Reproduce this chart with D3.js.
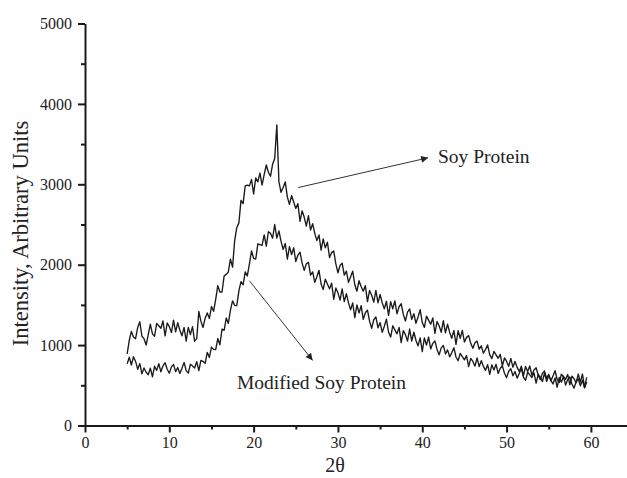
<!DOCTYPE html>
<html>
<head>
<meta charset="utf-8">
<script src="https://cdn.jsdelivr.net/npm/d3@7/dist/d3.min.js"></script>
<style>
  html, body { margin: 0; padding: 0; background: #fff; }
  svg { display: block; }
  text { font-family: "Liberation Serif", "Times New Roman", serif; fill: #222; }
</style>
</head>
<body>
<svg id="chart" width="627" height="478"></svg>
<script>
// ---- data ----
const twoThetaStart = 5;      // first sample, degrees 2θ
const twoThetaStep = 0.25;    // sampling step, degrees

const soyProtein = [
  890,1060,1170,1100,1080,1220,1290,1110,
  1080,1000,1130,1260,1140,1110,1270,1240,
  1210,1300,1115,1275,1230,1155,1310,1165,
  1280,1185,1115,1220,1050,1220,1130,1230,
  1050,1080,1420,1295,1220,1335,1400,1330,
  1480,1420,1570,1740,1660,1660,1860,1880,
  1910,2070,1970,2300,2460,2520,2800,2760,
  2980,2990,2980,3060,2880,3080,3030,3140,
  2990,3120,3240,3150,3100,3250,3320,3740,
  3030,2900,2960,3030,2840,2750,2860,2780,
  2700,2760,2540,2670,2590,2480,2610,2430,
  2510,2390,2300,2370,2180,2320,2210,2280,
  2090,2150,2170,2010,1900,1990,2020,1870,
  1920,1780,1850,1920,1750,1670,1800,1730,
  1670,1740,1540,1680,1620,1535,1680,1525,
  1630,1525,1450,1545,1370,1540,1450,1550,
  1390,1477,1515,1382,1300,1410,1450,1320,
  1390,1270,1350,1440,1280,1220,1360,1310,
  1260,1338,1145,1293,1240,1158,1305,1153,
  1260,1158,1085,1183,1010,1178,1085,1183,
  1038,1096,1118,1022,960,1029,1049,950,
  991,899,947,1002,882,832,922,879,
  836,884,743,840,797,736,835,725,
  796,723,671,738,616,735,671,741,
  628,691,718,627,570,648,677,586,
  636,555,615,681,572,535,637,607,
  576,635,506,614,582,531,640,540,
  640,470,600
];

const modifiedSoyProtein = [
  766,849,753,855,797,698,770,642,
  716,663,631,713,606,737,686,768,
  668,743,781,699,650,729,759,670,
  721,647,712,785,682,652,762,739,
  716,794,683,810,797,773,910,847,
  974,947,944,1082,1004,1198,1184,1337,
  1270,1435,1550,1495,1490,1675,1790,1750,
  1910,1860,2010,2170,2080,2070,2260,2250,
  2240,2370,2230,2410,2390,2330,2500,2330,
  2420,2290,2190,2265,2070,2225,2125,2210,
  2040,2120,2155,2020,1930,2010,2030,1870,
  1910,1780,1850,1930,1760,1690,1820,1760,
  1700,1770,1570,1710,1650,1560,1700,1540,
  1640,1525,1440,1525,1340,1500,1400,1490,
  1320,1403,1435,1298,1210,1315,1350,1215,
  1280,1158,1235,1323,1160,1100,1240,1190,
  1140,1220,1030,1180,1130,1050,1200,1050,
  1160,1060,990,1090,920,1090,1000,1100,
  952,1022,1052,946,880,966,996,890,
  941,854,907,967,852,805,897,857,
  816,869,733,835,797,738,840,732,
  806,736,686,756,636,755,691,761,
  648,712,741,650,595,675,707,619,
  671,589,647,712,602,562,662,629,
  596,655,526,634,602,547,653,548,
  626,561,516,591,476,598,539,612,
  503,571,603,517,465,547,579,493,
  560,470,540
];

const xTicks = [0, 10, 20, 30, 40, 50, 60];
const xMinorTicks = [5, 15, 25, 35, 45, 55];
const yTicks = [0, 1000, 2000, 3000, 4000, 5000];
const yMinorTicks = [500, 1500, 2500, 3500, 4500];

const xTitle = "2θ";
const yTitle = "Intensity, Arbitrary Units";
const labelSoy = "Soy Protein";
const labelModified = "Modified Soy Protein";

// ---- drawing ----
const svg = d3.select("#chart");
const x = d3.scaleLinear().domain([0, 64.4]).range([85, 628]);
const y = d3.scaleLinear().domain([0, 5000]).range([425.5, 23.5]);

const axisColor = "#1a1a1a";
const fontFam = "Liberation Serif";

// x axis
svg.append("g").attr("transform", `translate(0,${y(0)})`)
  .call(d3.axisBottom(x).tickValues(xTicks).tickSize(7).tickSizeOuter(0).tickPadding(4).tickFormat(d3.format("d")))
  .call(g => g.select(".domain").attr("stroke", axisColor).attr("stroke-width", 2))
  .call(g => g.selectAll(".tick line").attr("stroke", axisColor).attr("stroke-width", 2))
  .call(g => g.selectAll(".tick text").attr("font-size", 16).attr("font-family", fontFam).attr("fill", "#222"));
svg.append("g").attr("transform", `translate(0,${y(0)})`)
  .call(d3.axisBottom(x).tickValues(xMinorTicks).tickSize(4).tickSizeOuter(0).tickFormat(""))
  .call(g => g.select(".domain").remove())
  .call(g => g.selectAll(".tick line").attr("stroke", axisColor).attr("stroke-width", 2));

// y axis
svg.append("g").attr("transform", `translate(${x(0)},0)`)
  .call(d3.axisLeft(y).tickValues(yTicks).tickSize(7).tickSizeOuter(0).tickPadding(6).tickFormat(d3.format("d")))
  .call(g => g.select(".domain").attr("stroke", axisColor).attr("stroke-width", 2))
  .call(g => g.selectAll(".tick line").attr("stroke", axisColor).attr("stroke-width", 2))
  .call(g => g.selectAll(".tick text").attr("font-size", 16).attr("font-family", fontFam).attr("fill", "#222"));
svg.append("g").attr("transform", `translate(${x(0)},0)`)
  .call(d3.axisLeft(y).tickValues(yMinorTicks).tickSize(4).tickSizeOuter(0).tickFormat(""))
  .call(g => g.select(".domain").remove())
  .call(g => g.selectAll(".tick line").attr("stroke", axisColor).attr("stroke-width", 2));

// axis titles
svg.append("text")
  .attr("x", 335).attr("y", 472)
  .attr("text-anchor", "middle").attr("font-size", 20)
  .text(xTitle);
svg.append("text")
  .attr("transform", `translate(28,${(115 + 352) / 2}) rotate(-90)`)
  .attr("text-anchor", "middle").attr("font-size", 22.5)
  .text(yTitle);

// series
const line = d3.line()
  .x((d, i) => x(twoThetaStart + i * twoThetaStep))
  .y(d => y(d));

svg.append("path").datum(soyProtein)
  .attr("fill", "none").attr("stroke", "#1a1a1a").attr("stroke-width", 1.35)
  .attr("stroke-linejoin", "round").attr("d", line);
svg.append("path").datum(modifiedSoyProtein)
  .attr("fill", "none").attr("stroke", "#1a1a1a").attr("stroke-width", 1.35)
  .attr("stroke-linejoin", "round").attr("d", line);

// annotations with arrows
const defs = svg.append("defs");
defs.append("marker").attr("id", "arrow")
  .attr("viewBox", "0 0 10 10").attr("refX", 10).attr("refY", 5)
  .attr("markerWidth", 10).attr("markerHeight", 7).attr("markerUnits", "userSpaceOnUse")
  .attr("orient", "auto")
  .append("path").attr("d", "M0,0 L10,5 L0,10 Z").attr("fill", "#222");

svg.append("line")
  .attr("x1", x(25.3)).attr("y1", y(2960))
  .attr("x2", x(40.7)).attr("y2", y(3330))
  .attr("stroke", "#333").attr("stroke-width", 1).attr("marker-end", "url(#arrow)");
svg.append("line")
  .attr("x1", x(19.5)).attr("y1", y(1800))
  .attr("x2", x(27)).attr("y2", y(810))
  .attr("stroke", "#333").attr("stroke-width", 1).attr("marker-end", "url(#arrow)");

svg.append("text").attr("x", 438).attr("y", 163)
  .attr("font-size", 19.5).text(labelSoy);
svg.append("text").attr("x", 237).attr("y", 389)
  .attr("font-size", 19.5).text(labelModified);
</script>
</body>
</html>
